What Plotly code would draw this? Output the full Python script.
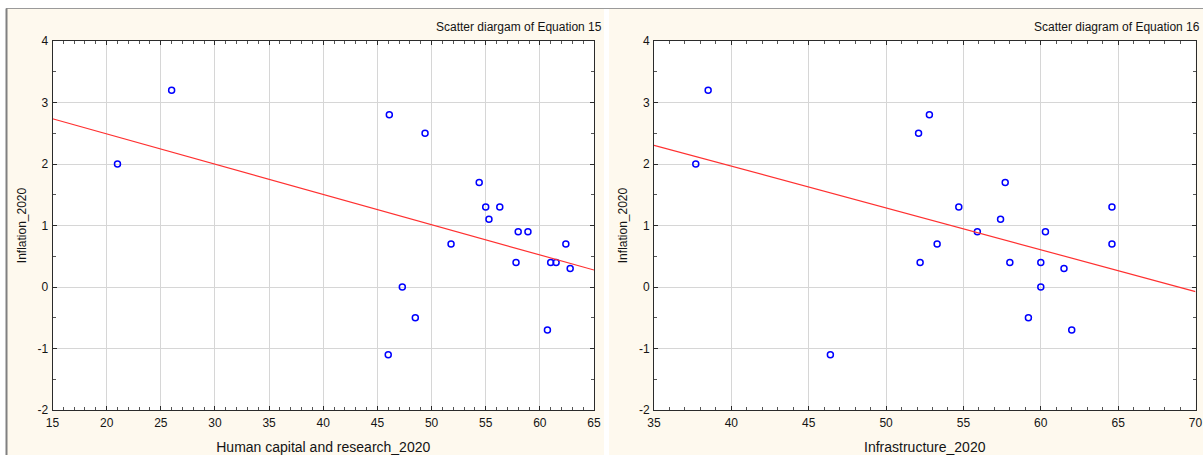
import numpy as np
import plotly.graph_objects as go

W, H = 1203, 455

# ---- data ----
inflation_2020 = [2.0, 3.2, 2.8, 2.5, 1.7, 1.3, 1.3, 1.1, 0.9, 0.9,
                  0.7, 0.7, 0.4, 0.4, 0.4, 0.3, 0.0, -0.5, -0.7, -1.1]
human_capital_2020 = [21.0, 26.0, 46.1, 49.4, 54.4, 55.0, 56.3, 55.3, 58.0, 58.9,
                      51.8, 62.4, 57.8, 61.0, 61.5, 62.8, 47.3, 48.5, 60.7, 46.0]
inflation_2020_b = [2.0, 3.2, 2.8, 2.5, 1.7, 1.3, 1.3, 1.1, 0.9, 0.9,
                    0.7, 0.7, 0.4, 0.4, 0.4, 0.3, 0.0, -0.5, -0.7, -1.1]
infrastructure_2020 = [37.7, 38.5, 52.8, 52.1, 57.7, 54.7, 64.6, 57.4, 55.9, 60.3,
                       53.3, 64.6, 52.2, 58.0, 60.0, 61.5, 60.0, 59.2, 62.0, 46.4]

x_range_left = [15, 65]
x_range_right = [35, 70]
y_range = [-2, 4]
y_tickvals = [-2, -1, 0, 1, 2, 3, 4]
y_ticktext = ["-2", "-1", "0", "1", "2", "3", "4"]

title_left = "Scatter diargam of Equation 15"
title_right = "Scatter diagram of Equation 16"
xtitle_left = "Human capital and research_2020"
xtitle_right = "Infrastructure_2020"
ytitle = "Inflation_2020"

# ---- regression lines (OLS fit of the data) ----
sl, il = np.polyfit(human_capital_2020, inflation_2020, 1)
sr, ir = np.polyfit(infrastructure_2020, inflation_2020_b, 1)
fit_x_left = np.array(x_range_left, dtype=float)
fit_x_right = np.array(x_range_right, dtype=float)

FONT = "Liberation Sans, Arial, sans-serif"
CREAM = "#FEF9EE"
GRID = "#D6D6D6"
AX = "#2b2b2b"
TXT = "#141414"

fig = go.Figure()
marker = dict(symbol="circle-open", size=6, color="#0000FF", line=dict(width=1.5, color="#0000FF"))
fig.add_trace(go.Scatter(x=human_capital_2020, y=inflation_2020, mode="markers",
                         marker=marker, xaxis="x", yaxis="y", showlegend=False))
fig.add_trace(go.Scatter(x=fit_x_left, y=il + sl * fit_x_left, mode="lines",
                         line=dict(color="#FF3030", width=1.2), xaxis="x", yaxis="y", showlegend=False))
fig.add_trace(go.Scatter(x=infrastructure_2020, y=inflation_2020_b, mode="markers",
                         marker=marker, xaxis="x2", yaxis="y2", showlegend=False))
fig.add_trace(go.Scatter(x=fit_x_right, y=ir + sr * fit_x_right, mode="lines",
                         line=dict(color="#FF3030", width=1.2), xaxis="x2", yaxis="y2", showlegend=False))

ydom = [1 - 410 / H, 1 - 41 / H]

def xax(dom, rng, title, anchor):
    return dict(domain=dom, range=rng, dtick=5, tick0=0, anchor=anchor, automargin=False,
                showgrid=True, gridcolor=GRID, gridwidth=1, zeroline=False,
                showline=True, linecolor=AX, linewidth=1, mirror="ticks",
                ticks="inside", ticklen=4, tickcolor=AX, ticklabelstandoff=2,
                minor=dict(dtick=1, ticks="inside", ticklen=3, tickcolor="#555", showgrid=False),
                tickfont=dict(family=FONT, size=12, color=TXT),
                title=dict(text=title, font=dict(family=FONT, size=14, color=TXT), standoff=13))

def yax(anchor):
    return dict(domain=ydom, range=y_range, tickmode="array", tickvals=y_tickvals,
                ticktext=y_ticktext, anchor=anchor, automargin=False,
                showgrid=True, gridcolor=GRID, gridwidth=1, zeroline=False,
                showline=True, linecolor=AX, linewidth=1, mirror="ticks",
                ticks="inside", ticklen=4, tickcolor=AX, ticklabelstandoff=1,
                minor=dict(dtick=0.5, tick0=0, ticks="inside", ticklen=3, tickcolor="#555", showgrid=False),
                tickfont=dict(family=FONT, size=12, color=TXT),
                title=dict(text=ytitle, font=dict(family=FONT, size=12, color=TXT), standoff=8))

shapes = [
    dict(type="rect", xref="paper", yref="paper", x0=7 / W, x1=604 / W, y0=0, y1=1 - 9 / H,
         fillcolor=CREAM, line=dict(width=0), layer="below"),
    dict(type="rect", xref="paper", yref="paper", x0=609 / W, x1=1.01, y0=0, y1=1 - 9 / H,
         fillcolor=CREAM, line=dict(width=0), layer="below"),
    dict(type="rect", xref="paper", yref="paper", x0=52.5 / W, x1=594 / W, y0=ydom[0], y1=ydom[1],
         fillcolor="white", line=dict(width=0), layer="below"),
    dict(type="rect", xref="paper", yref="paper", x0=654 / W, x1=1195.5 / W, y0=ydom[0], y1=ydom[1],
         fillcolor="white", line=dict(width=0), layer="below"),
    dict(type="line", xref="paper", yref="paper", x0=6 / W, x1=1.01, y0=1 - 8.5 / H, y1=1 - 8.5 / H,
         line=dict(color="#9a9a9a", width=1), layer="below"),
    dict(type="line", xref="paper", yref="paper", x0=6.5 / W, x1=6.5 / W, y0=0, y1=1 - 8.5 / H,
         line=dict(color="#808080", width=2), layer="below"),
]

annotations = [
    dict(text=title_left, xref="paper", yref="paper", x=604 / W, y=1 - 27 / H,
         xanchor="right", yanchor="middle", showarrow=False,
         font=dict(family=FONT, size=12, color=TXT)),
    dict(text=title_right, xref="paper", yref="paper", x=1202 / W, y=1 - 27 / H,
         xanchor="right", yanchor="middle", showarrow=False,
         font=dict(family=FONT, size=12, color=TXT)),
]

fig.update_layout(
    width=W, height=H, margin=dict(l=0, r=0, t=0, b=0, autoexpand=False),
    paper_bgcolor="white", plot_bgcolor="white",
    xaxis=xax([52.5 / W, 594 / W], x_range_left, xtitle_left, "y"),
    yaxis=yax("x"),
    xaxis2=xax([654 / W, 1195.5 / W], x_range_right, xtitle_right, "y2"),
    yaxis2=yax("x2"),
    shapes=shapes, annotations=annotations,
    font=dict(family=FONT),
)

fig.write_html("out.html")
